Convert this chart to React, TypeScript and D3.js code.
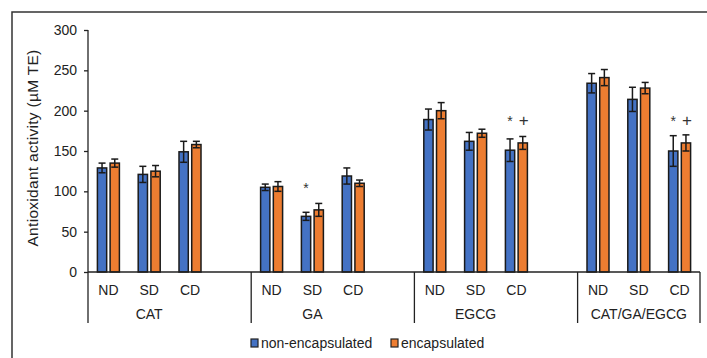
import * as d3 from "d3";
import { useEffect, useRef } from "react";

// categories, in Excel's multi-level order (empty slot between groups)
const groups = ["CAT", "GA", "EGCG", "CAT/GA/EGCG"];
const subs = ["ND", "SD", "CD"];

// values, group by group (ND, SD, CD)
const nonEnc = [129, 121, 149, 105, 69, 119, 189, 162, 151, 234, 214, 150];
const nonEncErr = [6, 10, 13, 4, 5, 10, 13, 11, 14, 12, 15, 19];
const enc = [135, 125, 158, 106, 77, 110, 200, 172, 160, 241, 228, 160];
const encErr = [5, 7, 4, 6, 8, 4, 10, 5, 8, 10, 7, 10];

// significance marks: [index, series, text]
const marks: [number, number, string][] = [
  [4, 0, "*"],
  [8, 0, "*"],
  [8, 1, "+"],
  [11, 0, "*"],
  [11, 1, "+"],
];

const yTicks = [0, 50, 100, 150, 200, 250, 300];
const seriesNames = ["non-encapsulated", "encapsulated"];
const colors = ["#4472C4", "#ED7D31"];

const W = 707;
const H = 358;
const margin = { left: 88, right: 7, top: 30, bottom: 86 };

const App = () => {
  const ref = useRef<SVGSVGElement>(null);

  useEffect(() => {
    const svg = d3.select(ref.current);
    svg.selectAll("*").remove();

    const font = "'Liberation Sans', Arial, sans-serif";
    const fs = 14;
    const x0 = margin.left;
    const x1 = W - margin.right;
    const yBase = H - margin.bottom;

    // slot keys: 15 slots, blank between groups
    const slots: string[] = [];
    groups.forEach((g, gi) => {
      subs.forEach((s) => slots.push(g + "|" + s));
      if (gi < groups.length - 1) slots.push("gap" + gi);
    });

    const x = d3.scaleBand().domain(slots).range([x0, x1]);
    const xs = d3.scaleBand().domain(["0", "1"]).range([-11, 11]).paddingInner(0.27);
    const y = d3.scaleLinear().domain([0, 300]).range([yBase, margin.top]);

    // frame
    svg.append("rect")
      .attr("x", 12).attr("y", 12)
      .attr("width", 760).attr("height", 420)
      .attr("fill", "none").attr("stroke", "#333").attr("stroke-width", 1.5);

    // y axis
    const yAxis = d3.axisLeft(y).tickValues(yTicks).tickSize(4).tickPadding(7);
    const gy = svg.append("g").attr("transform", `translate(${x0},0)`).call(yAxis);
    gy.select(".domain").remove();
    gy.selectAll("line").attr("stroke", "#222").attr("stroke-width", 1.3);
    gy.selectAll("text").attr("font-family", font).attr("font-size", fs).attr("fill", "#222");

    svg.append("text")
      .attr("transform", `translate(38,${(margin.top + yBase) / 2 - 3}) rotate(-90)`)
      .attr("text-anchor", "middle")
      .attr("font-family", font).attr("font-size", 15.5).attr("fill", "#222")
      .attr("letter-spacing", 0.3)
      .text("Antioxidant activity (µM TE)");

    const data = nonEnc.map((v, i) => ({
      key: groups[Math.floor(i / 3)] + "|" + subs[i % 3],
      vals: [v, enc[i]],
      errs: [nonEncErr[i], encErr[i]],
    }));

    const flat = data.flatMap((d, i) =>
      [0, 1].map((s) => ({ i, s, key: d.key, v: d.vals[s], e: d.errs[s] }))
    );
    const cx = (d: { key: string; s: number }) =>
      (x(d.key) as number) + x.bandwidth() / 2 + (xs(String(d.s)) as number);

    // bars
    svg.append("g").selectAll("rect")
      .data(flat).enter().append("rect")
      .attr("x", (d) => cx(d))
      .attr("y", (d) => y(d.v))
      .attr("width", xs.bandwidth())
      .attr("height", (d) => yBase - y(d.v))
      .attr("fill", (d) => colors[d.s])
      .attr("stroke", "#1a1a1a").attr("stroke-width", 1.5);

    // error bars
    const eg = svg.append("g").attr("stroke", "#1a1a1a").attr("stroke-width", 1.5);
    flat.forEach((d) => {
      const mx = cx(d) + xs.bandwidth() / 2;
      eg.append("line").attr("x1", mx).attr("x2", mx).attr("y1", y(d.v - d.e)).attr("y2", y(d.v + d.e));
      [d.v - d.e, d.v + d.e].forEach((vv) =>
        eg.append("line").attr("x1", mx - 3.5).attr("x2", mx + 3.5).attr("y1", y(vv)).attr("y2", y(vv))
      );
    });

    // significance marks
    svg.append("g").selectAll("text")
      .data(marks).enter().append("text")
      .attr("x", (m) => {
        const d = data[m[0]];
        return cx({ key: d.key, s: m[1] }) + xs.bandwidth() / 2 + (m[1] === 1 ? 1 : 0);
      })
      .attr("y", (m) => (m[0] === 4 ? 193 : m[2] === "*" ? 126 : 126))
      .attr("text-anchor", "middle")
      .attr("font-family", font)
      .attr("font-size", (m) => (m[2] === "*" ? 14 : 17))
      .attr("fill", "#333")
      .text((m) => m[2]);

    // category axis
    const ax = svg.append("g").attr("stroke", "#222").attr("stroke-width", 1.3);
    ax.append("line").attr("x1", x0).attr("x2", x1).attr("y1", yBase).attr("y2", yBase);
    ax.append("line").attr("x1", x0).attr("x2", x0).attr("y1", margin.top).attr("y2", yBase + 51);
    const seps = groups.map((g, gi) => (gi === 0 ? x0 : (x("gap" + (gi - 1)) as number) + x.bandwidth()));
    seps.slice(1).concat([x1]).forEach((sx) =>
      ax.append("line").attr("x1", sx).attr("x2", sx).attr("y1", yBase).attr("y2", yBase + 51)
    );

    const lab = svg.append("g").attr("font-family", font).attr("font-size", fs).attr("fill", "#222")
      .attr("text-anchor", "middle");
    data.forEach((d) => {
      lab.append("text")
        .attr("x", (x(d.key) as number) + x.bandwidth() / 2)
        .attr("y", yBase + 23)
        .text(d.key.split("|")[1]);
    });
    groups.forEach((g) => {
      const a = x(g + "|ND") as number;
      const b = (x(g + "|CD") as number) + x.bandwidth();
      lab.append("text").attr("x", (a + b) / 2).attr("y", yBase + 47).text(g);
    });

    // legend
    const lg = svg.append("g").attr("font-family", font).attr("font-size", fs).attr("fill", "#222");
    const lx = [251, 391];
    seriesNames.forEach((n, i) => {
      lg.append("rect").attr("x", lx[i]).attr("y", 339).attr("width", 7).attr("height", 8)
        .attr("fill", colors[i]).attr("stroke", "#222").attr("stroke-width", 1.2);
      lg.append("text").attr("x", lx[i] + 10).attr("y", 348).text(n);
    });
  }, []);

  return (
    <svg ref={ref} width={W} height={H}
      style={{ position: "absolute", left: 0, top: 0, background: "#fff" }} />
  );
};

export default App;
